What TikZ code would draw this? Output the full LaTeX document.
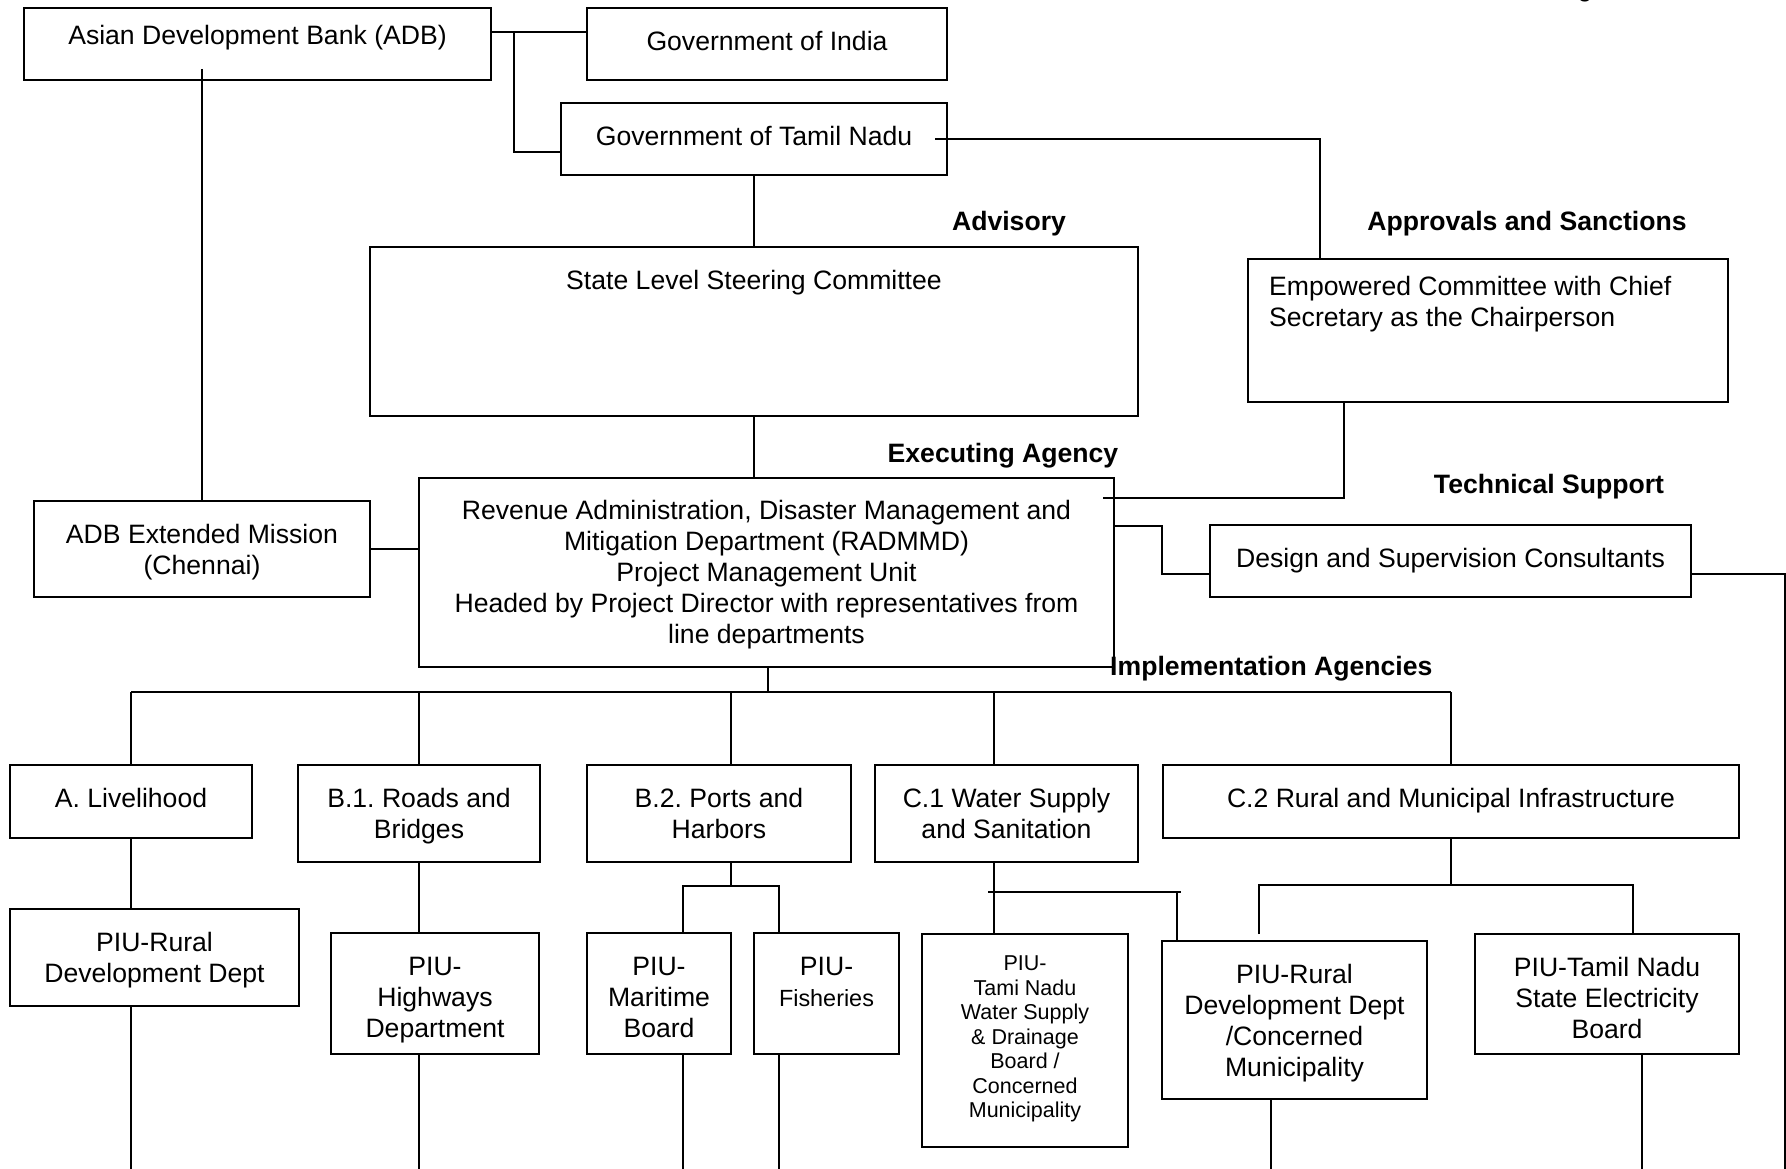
\documentclass[tikz,border=0pt]{standalone}
\usepackage{fontspec}
\setmainfont{Liberation Sans}
\frenchspacing
\tikzset{
  ln/.style={draw=black, line width=1.8pt},
  box/.style={draw=black, line width=1.8pt, inner sep=0pt, rectangle},
  txt/.style={inner sep=0pt, align=center, font=\fontsize{26.6}{31}\selectfont},
  smalltxt/.style={inner sep=0pt, align=center, font=\fontsize{21.5}{24.5}\selectfont},
  lbl/.style={inner sep=0pt, font=\fontsize{26.6}{31}\selectfont\bfseries},
}
% #1 offset of text top, #2 name, #3 x1, #4 y1, #5 x2, #6 y2, #7 text
\newcommand\bx[7][22]{%
  \node[box, minimum width={#5-#3}, minimum height={#6-#4}] (#2) at ({(#3+#5)/2},{(#4+#6)/2}) {};
  \node[txt, anchor=north] (#2-t) at ({(#3+#5)/2},{#4+#1}) {\rule{0pt}{20pt}#7};}
\begin{document}
\begin{tikzpicture}[x=1pt,y=-1pt]
\useasboundingbox (0,0) rectangle (1786,1169);
\fill[white] (0,0) rectangle (1786,1169);

% top boxes
\bx[16]{adb}{24}{8}{491}{80}{Asian Development Bank (ADB)}
\bx{goi}{587}{8}{947}{80}{Government of India}
\bx{gotn}{561}{103}{947}{175}{Government of Tamil Nadu}
\bx{slsc}{370}{247}{1138}{416}{State Level Steering Committee}
\node[box, minimum width={1728-1248}, minimum height={402-259}] (emp) at ({(1248+1728)/2},{(259+402)/2}) {};
\node[txt, align=left, anchor=north west] (emp-t) at (1269,275) {\rule{0pt}{20pt}Empowered Committee with Chief\\Secretary as the Chairperson};

\bx[21]{radmmd}{419}{478}{1114}{667}{Revenue Administration, Disaster Management and\\Mitigation Department (RADMMD)\\Project Management Unit\\Headed by Project Director with representatives from\\line departments}
\bx{adbem}{34}{501}{370}{597}{ADB Extended Mission\\(Chennai)}
\bx{dsc}{1210}{525}{1691}{597}{Design and Supervision Consultants}

% category row
\bx{catA}{10}{765}{252}{838}{A. Livelihood}
\bx{catB1}{298}{765}{540}{862}{B.1. Roads and\\Bridges}
\bx{catB2}{587}{765}{851}{862}{B.2. Ports and\\Harbors}
\bx{catC1}{875}{765}{1138}{862}{C.1 Water Supply\\and Sanitation}
\bx{catC2}{1163}{765}{1739}{838}{C.2 Rural and Municipal Infrastructure}

% PIU row
\bx{piuA}{10}{909}{299}{1006}{PIU-Rural\\Development Dept}
\bx{piuB1}{331}{933}{539}{1054}{PIU-\\Highways\\Department}
\bx{piuB2a}{587}{933}{731}{1054}{PIU-\\Maritime\\Board}
\bx{piuB2b}{754}{933}{899}{1054}{PIU-\\{\fontsize{23.4}{31}\selectfont Fisheries}}
\node[box, minimum width={1128-922}, minimum height={1147-934}] (piuC1a) at ({(922+1128)/2},{(934+1147)/2}) {};
\node[smalltxt, anchor=north] (piuC1a-t) at ({(922+1128)/2},{934+19.5}) {\rule{0pt}{17pt}PIU-\\Tami Nadu\\Water Supply\\\& Drainage\\Board /\\Concerned\\Municipality};
\bx{piuC1b}{1162}{941}{1427}{1099}{PIU-Rural\\Development Dept\\/Concerned\\Municipality}
\bx{piuC2}{1475}{934}{1739}{1054}{PIU-Tamil Nadu\\State Electricity\\Board}

% labels
\node[lbl, anchor=base] (lAdv) at (1009,230.5) {Advisory};
\node[lbl, anchor=base] (lApp) at (1527,230.5) {Approvals and Sanctions};
\node[lbl, anchor=base] (lExe) at (1003,462.5) {Executing Agency};
\node[lbl, anchor=base] (lTec) at (1549,493.5) {Technical Support};
\node[lbl, anchor=base west] (lImp) at (1110,675) {Implementation Agencies};
\node[txt, anchor=base] (cutg) at (1585,-3.5) {g};

% connectors: top
\coordinate (j1) at (514,32);
\coordinate (j2) at (514,152);
\draw[ln] (adb.east |- j1) -- (goi.west |- j1);
\draw[ln] (j1) -- (j2) -- (j2 -| gotn.west);
\coordinate (g1) at (935,139);
\coordinate (g2) at (1320,139);
\draw[ln] (g1) -- (g2) -- (g2 |- emp.north);
\draw[ln] (gotn.south) -- (gotn.south |- slsc.north);
\draw[ln] (slsc.south) -- (slsc.south |- radmmd.north);
\coordinate (a1) at (202,69);
\draw[ln] (a1) -- (a1 |- adbem.north);
\draw[ln] (adbem.east) -- (adbem.east -| radmmd.west);
\coordinate (e0) at (1344,498);
\coordinate (e1) at (1103,498);
\draw[ln] (e0 |- emp.south) -- (e0) -- (e1);
\coordinate (d0) at (1162,526);
\coordinate (d1) at (1162,574);
\draw[ln] (radmmd.east |- d0) -- (d0) -- (d1) -- (d1 -| dsc.west);
\coordinate (r1) at (1785,574);
\coordinate (r2) at (1785,1175);
\draw[ln] (dsc.east |- r1) -- (r1) -- (r2);

% bus
\coordinate (b0) at (768,692);
\coordinate (bL) at (131,692);
\coordinate (bR) at (1451,692);
\draw[ln] (b0 |- radmmd.south) -- (b0);
\draw[ln] (bL) -- (bR);
\draw[ln] (catA.north |- bL) -- (catA.north);
\draw[ln] (catB1.north |- bL) -- (catB1.north);
\coordinate (xB2) at (731,692);
\draw[ln] (xB2) -- (xB2 |- catB2.north);
\coordinate (xC1) at (994,692);
\draw[ln] (xC1) -- (xC1 |- catC1.north);
\draw[ln] (catC2.north |- bL) -- (catC2.north);

% column A
\coordinate (zA) at (131,1175);
\draw[ln] (catA.south) -- (catA.south |- piuA.north);
\draw[ln] (catA.south |- piuA.south) -- (zA);
% column B1
\coordinate (zB) at (419,1175);
\draw[ln] (catB1.south) -- (catB1.south |- piuB1.north);
\draw[ln] (zB |- piuB1.south) -- (zB);
% column B2
\coordinate (k0) at (731,886);
\coordinate (kL) at (683,886);
\coordinate (kR) at (779,886);
\draw[ln] (xB2 |- catB2.south) -- (k0);
\draw[ln] (kL |- piuB2a.north) -- (kL) -- (kR) -- (kR |- piuB2b.north);
\draw[ln] (kL |- piuB2a.south) -- (kL |- zA);
\draw[ln] (kR |- piuB2b.south) -- (kR |- zA);
% column C1
\draw[ln] (xC1 |- catC1.south) -- (xC1 |- piuC1a.north);
\coordinate (mL) at (988,892);
\coordinate (mR) at (1181,892);
\coordinate (mV) at (1177,892);
\draw[ln] (mL) -- (mR);
\draw[ln] (mV) -- (mV |- piuC1b.north);
\coordinate (pC1) at (1271,1175);
\draw[ln] (pC1 |- piuC1b.south) -- (pC1);
% column C2
\coordinate (n0) at (1451,885);
\coordinate (nL) at (1259,885);
\coordinate (nR) at (1633,885);
\coordinate (nLe) at (1259,934);
\draw[ln] (catC2.south) -- (n0);
\draw[ln] (nLe) -- (nL) -- (nR) -- (nR |- piuC2.north);
\coordinate (pC2) at (1642,1175);
\draw[ln] (pC2 |- piuC2.south) -- (pC2);
\end{tikzpicture}
\end{document}
